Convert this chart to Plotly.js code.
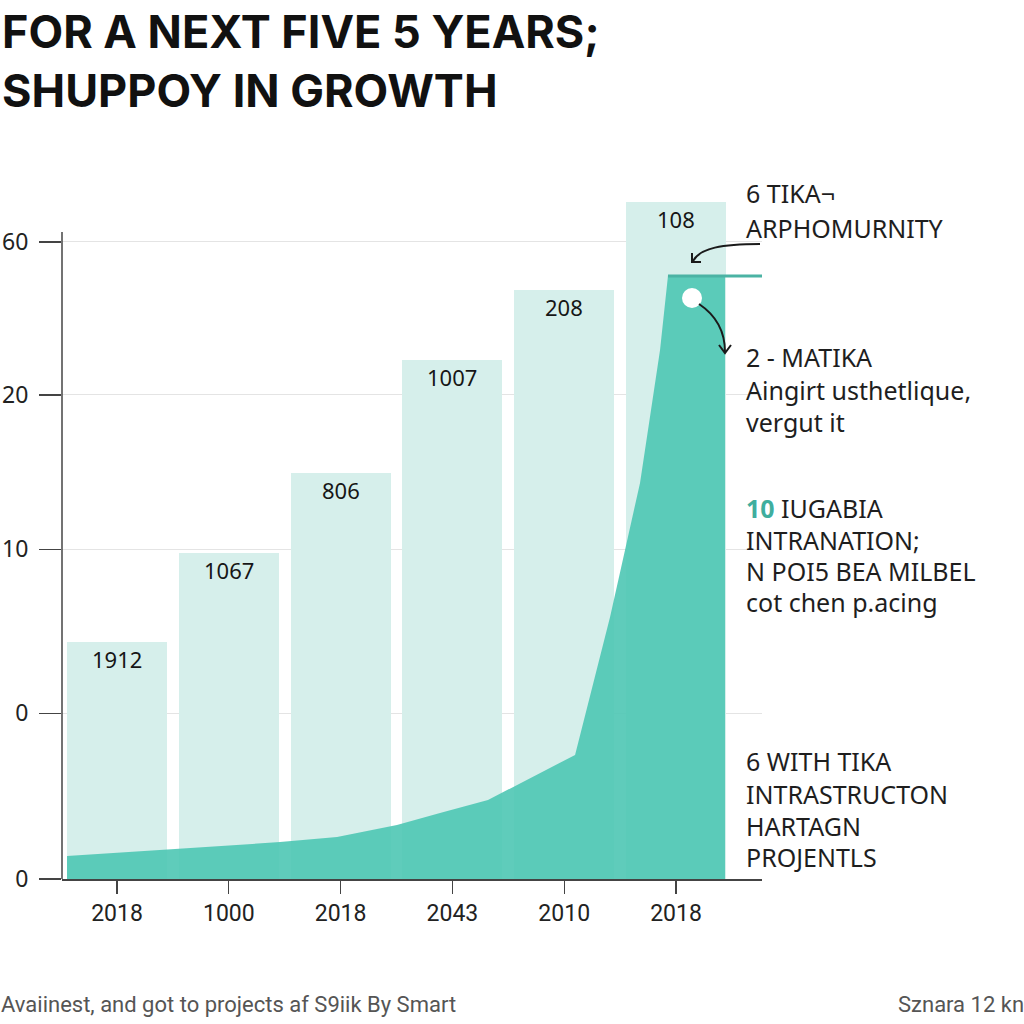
<!DOCTYPE html>
<html>
<head>
<meta charset="utf-8">
<script src="https://cdn.plot.ly/plotly-3.0.1.min.js"></script>
<style>html,body{margin:0;padding:0;background:#fff;}#chart{width:1024px;height:1024px;}</style>
</head>
<body>
<div id="chart"></div>
<script>
// ---- data ----
const xTickText = ['2018', '1000', '2018', '2043', '2010', '2018'];
const xIndex = [0, 1, 2, 3, 4, 5];
const barValues = [1.49, 2.05, 2.55, 3.26, 3.70, 4.25];
const barLabels = ['1912', '1067', '806', '1007', '208', '108'];
const yTickVals = [0, 1.04, 2.07, 3.04, 4.0];
const yTickText = ['0', '0', '10', '20', '60'];
const areaX = [-0.447, 0.50, 1.458, 1.968, 2.504, 2.889, 3.318, 4.097, 4.258, 4.41, 4.544, 4.678, 4.767, 4.857, 4.928, 5.438];
const areaY = [0.144, 0.188, 0.232, 0.264, 0.339, 0.414, 0.496, 0.779, 1.231, 1.645, 2.066, 2.487, 2.901, 3.322, 3.787, 3.787];
const capX = [4.928, 5.769];
const capY = [3.787, 3.787];
const pointX = [5.143];
const pointY = [3.648];
const titleText = 'FOR A NEXT FIVE 5 YEARS;<br>SHUPPOY IN GROWTH';
const noteLines = [
  ['6 TIKA¬', 193], ['ARPHOMURNITY', 228],
  ['2 - MATIKA', 357], ['Aingirt usthetlique,', 390], ['vergut it', 422],
  ['<span style="color:#3fae9e"><b>10</b></span> IUGABIA', 508], ['INTRANATION;', 540], ['N POI5 BEA MILBEL', 571], ['cot chen p.acing', 602],
  ['6 WITH TIKA', 761], ['INTRASTRUCTON', 794], ['HARTAGN', 826], ['PROJENTLS', 857]
];
const footLeft = 'Avaiinest, and got to projects af S9iik By Smart';
const footRight = 'Sznara 12 kn';

// ---- layout geometry ----
const L = 62, R = 262, T = 195, B = 145, W = 1024, H = 1024;
const pw = W - L - R, ph = H - T - B;
const px = v => (v - L) / pw;          // pixel x -> paper
const py = v => (H - B - v) / ph;      // pixel y -> paper

const traces = [
  {type: 'bar', x: xIndex, y: barValues, width: 0.894,
   marker: {color: '#d6efeb', line: {width: 0}}, hoverinfo: 'skip'},
  {type: 'scatter', mode: 'lines', x: areaX, y: areaY, fill: 'tozeroy',
   fillcolor: 'rgba(78,198,180,0.9)', line: {width: 0, color: 'rgba(0,0,0,0)'}, hoverinfo: 'skip'},
  {type: 'scatter', mode: 'lines', x: capX, y: capY,
   line: {width: 3, color: '#4bb3a4'}, hoverinfo: 'skip'},
  {type: 'scatter', mode: 'markers', x: pointX, y: pointY,
   marker: {size: 20, color: '#ffffff', line: {width: 0}}, hoverinfo: 'skip'}
];

const annotations = [];
barLabels.forEach((t, i) => annotations.push({
  x: xIndex[i], y: barValues[i], xref: 'x', yref: 'y', text: t, showarrow: false,
  yanchor: 'top', yshift: 0, font: {family: 'Noto Sans', size: 22, color: '#161616'}
}));
noteLines.forEach(([t, y]) => annotations.push({
  x: px(744), y: py(y), xref: 'paper', yref: 'paper', text: t, showarrow: false,
  xanchor: 'left', yanchor: 'middle', align: 'left',
  font: {family: 'Noto Sans', size: 25, color: '#1e1e1e'}
}));
annotations.push({x: px(-1), y: py(1005), xref: 'paper', yref: 'paper', text: footLeft, showarrow: false,
  xanchor: 'left', yanchor: 'middle', font: {family: 'Roboto', size: 22, color: '#555'}});
annotations.push({x: px(1026), y: py(1005), xref: 'paper', yref: 'paper', text: footRight, showarrow: false,
  xanchor: 'right', yanchor: 'middle', font: {family: 'Roboto', size: 22, color: '#555'}});

const P = (x, y) => px(x) + ',' + py(y);
const shapes = [
  // y axis line
  {type: 'line', xref: 'paper', yref: 'paper', x0: 0, x1: 0, y0: 0, y1: py(232), line: {color: '#444', width: 1.5}},
  // curved arrows
  {type: 'path', xref: 'paper', yref: 'paper', path: 'M' + P(760, 244) + ' C' + P(722, 244) + ' ' + P(700, 248) + ' ' + P(693, 261),
   line: {color: '#1a1a1a', width: 2}},
  {type: 'path', xref: 'paper', yref: 'paper', path: 'M' + P(692, 253) + ' L' + P(692, 262) + ' L' + P(701, 262),
   line: {color: '#1a1a1a', width: 2}},
  {type: 'path', xref: 'paper', yref: 'paper', path: 'M' + P(699, 304) + ' C' + P(714, 314) + ' ' + P(725, 330) + ' ' + P(725, 352),
   line: {color: '#1a1a1a', width: 2}},
  {type: 'path', xref: 'paper', yref: 'paper', path: 'M' + P(719, 345) + ' L' + P(725, 353) + ' L' + P(731, 345),
   line: {color: '#1a1a1a', width: 2}}
];

const layout = {
  width: W, height: H, autosize: false,
  margin: {l: L, r: R, t: T, b: B, pad: 0},
  paper_bgcolor: '#ffffff', plot_bgcolor: '#ffffff',
  showlegend: false,
  title: {text: titleText, xref: 'container', yref: 'container', x: 0.002, xanchor: 'left',
          y: 0.953, yanchor: 'top',
          font: {family: 'Inter', size: 45, weight: 'bold', color: '#111'}},
  xaxis: {range: [-0.492, 5.769], tickmode: 'array', tickvals: xIndex, ticktext: xTickText,
          showgrid: false, zeroline: false, showline: true, linecolor: '#444', linewidth: 1.5,
          ticks: 'outside', ticklen: 13, tickcolor: '#444', tickwidth: 1.2,
          tickfont: {family: 'Roboto', size: 23, color: '#222'}, ticklabelstandoff: 0, fixedrange: true},
  yaxis: {range: [0, 4.295], tickmode: 'array', tickvals: yTickVals, ticktext: yTickText,
          showgrid: true, gridcolor: '#e4e4e4', gridwidth: 1, zeroline: false, showline: false,
          ticks: 'outside', ticklen: 22, tickcolor: '#444', tickwidth: 1.5,
          tickfont: {family: 'Noto Sans', size: 23, color: '#222'}, ticklabelstandoff: 6, fixedrange: true},
  annotations: annotations,
  shapes: shapes,
  bargap: 0
};

Plotly.newPlot('chart', traces, layout, {displayModeBar: false, staticPlot: true});
</script>
</body>
</html>
